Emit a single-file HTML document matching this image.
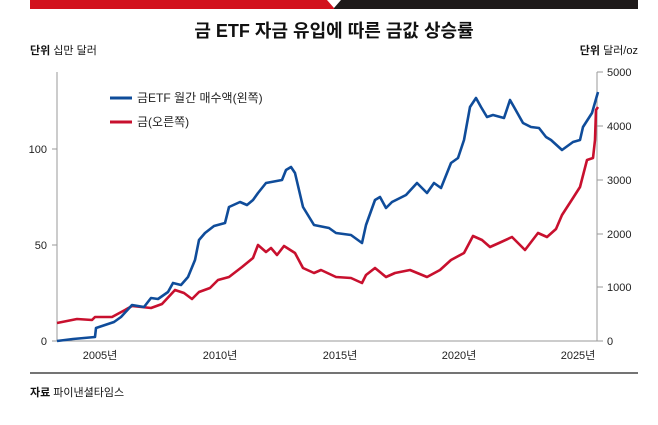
<!DOCTYPE html>
<html><head><meta charset="utf-8"><style>
html,body{margin:0;padding:0;background:#fff;}
body{width:658px;height:420px;overflow:hidden;font-family:"Liberation Sans","Noto Sans CJK KR",sans-serif;}
</style></head><body>
<svg width="658" height="420" viewBox="0 0 658 420" xmlns="http://www.w3.org/2000/svg" font-family="Liberation Sans, Noto Sans CJK KR, sans-serif">
<rect x="30" y="0" width="304" height="9" fill="#d2121d"/>
<rect x="334" y="0" width="304" height="9" fill="#1e1a1a"/>
<polygon points="327,0 341,0 334,8" fill="#fff"/>
<text x="334" y="37" text-anchor="middle" font-size="18" font-weight="bold" fill="#111">금 ETF 자금 유입에 따른 금값 상승률</text>
<text x="30" y="54" font-size="11" fill="#111"><tspan font-weight="bold">단위</tspan> 십만 달러</text>
<text x="638" y="54" text-anchor="end" font-size="11" fill="#111"><tspan font-weight="bold">단위</tspan> 달러/oz</text>
<g stroke="#999" stroke-width="1" fill="none">
<line x1="57" y1="72" x2="57" y2="341"/>
<line x1="52" y1="341" x2="603" y2="341"/>
<line x1="597" y1="72" x2="597" y2="341"/>
<line x1="52" y1="245" x2="57" y2="245"/><line x1="52" y1="149" x2="57" y2="149"/>
<line x1="597" y1="72" x2="603" y2="72"/><line x1="597" y1="126" x2="603" y2="126"/><line x1="597" y1="180" x2="603" y2="180"/><line x1="597" y1="234" x2="603" y2="234"/><line x1="597" y1="287" x2="603" y2="287"/>
</g>
<g font-size="11" fill="#222">
<text x="47" y="345" text-anchor="end">0</text>
<text x="47" y="249" text-anchor="end">50</text>
<text x="47" y="153" text-anchor="end">100</text>
<text x="607" y="345">0</text><text x="607" y="291">1000</text><text x="607" y="238">2000</text><text x="607" y="184">3000</text><text x="607" y="130">4000</text><text x="607" y="76">5000</text>
<text x="100" y="359" text-anchor="middle">2005년</text>
<text x="220" y="359" text-anchor="middle">2010년</text>
<text x="340" y="359" text-anchor="middle">2015년</text>
<text x="459" y="359" text-anchor="middle">2020년</text>
<text x="578" y="359" text-anchor="middle">2025년</text>
</g>
<line x1="110" y1="98" x2="132" y2="98" stroke="#0f4c9a" stroke-width="3"/>
<text x="137" y="102" font-size="12" fill="#222">금ETF 월간 매수액(왼쪽)</text>
<line x1="110" y1="122" x2="132" y2="122" stroke="#c8102e" stroke-width="3"/>
<text x="137" y="126" font-size="12" fill="#222">금(오른쪽)</text>
<polyline fill="none" stroke="#c8102e" stroke-width="2.6" stroke-linejoin="round" points="57,323 77,319 92,320 95,317 112,317 125,310 132,306 151,308 162,304 175,290 184,293 192,299 199,292 210,288 218,280 229,277 242,267 253,258 258,245 266,252 271,248 277,255 284,246 295,253 303,268 314,273 321,270 336,277 351,278 362,283 366,275 375,268 386,277 395,273 410,270 427,277 440,270 451,260 464,253 473,236 482,240 490,247 499,243 512,237 525,250 538,233 547,237 556,229 562,215 573,198 580,187 587,160 593,158 595,140 596,110 598,107"/>
<polyline fill="none" stroke="#0f4c9a" stroke-width="2.6" stroke-linejoin="round" points="57,341 73,339 95,337 96,328 114,322 121,317 132,305 144,307 151,298 158,299 168,292 173,283 181,285 188,277 195,260 199,240 205,233 214,226 225,223 229,207 240,202 247,205 253,200 258,193 266,183 282,180 286,170 291,167 295,173 303,207 314,225 329,228 336,233 351,235 362,243 366,225 375,200 380,197 386,208 392,202 406,195 417,183 427,193 434,183 441,188 451,163 458,158 464,140 470,107 476,98 481,107 487,117 493,115 504,118 510,100 514,107 523,123 531,127 539,128 546,137 551,140 562,150 573,142 580,140 583,127 592,113 598,92"/>
<line x1="30" y1="373" x2="638" y2="373" stroke="#222" stroke-width="1.2"/>
<text x="30" y="396" font-size="11" fill="#111"><tspan font-weight="bold">자료</tspan> 파이낸셜타임스</text>
</svg>
</body></html>
